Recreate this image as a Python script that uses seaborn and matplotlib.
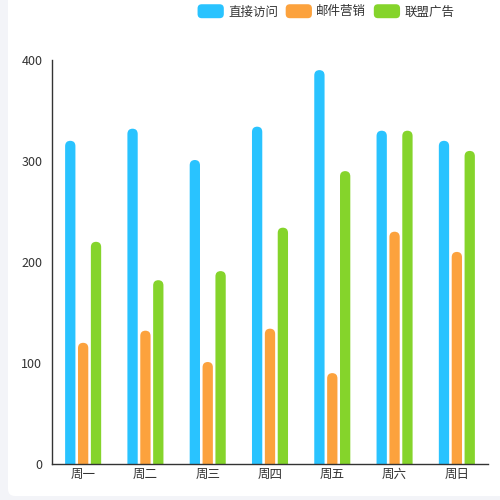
import pandas as pd
import numpy as np
import matplotlib
matplotlib.use('Agg')
import matplotlib.pyplot as plt
import seaborn as sns
from matplotlib.patches import FancyBboxPatch
from matplotlib.legend_handler import HandlerPatch

# data
days = ['周一', '周二', '周三', '周四', '周五', '周六', '周日']
direct = [320, 332, 301, 334, 390, 330, 320]
email = [120, 132, 101, 134, 90, 230, 210]
union = [220, 182, 191, 234, 290, 330, 310]
series = ['直接访问', '邮件营销', '联盟广告']
colors = ['#29c3ff', '#fca23d', '#85d42b']

df = pd.DataFrame({'day': days * 3,
                   'value': direct + email + union,
                   'series': [s for s in series for _ in days]})

sns.set_style('white')
plt.rcParams['font.family'] = ['Noto Sans CJK SC', 'DejaVu Sans']

fig = plt.figure(figsize=(5, 5), dpi=100)
fig.patch.set_facecolor('#f3f4f8')
# white card, gray strip shows on the left and bottom
card = FancyBboxPatch((8 / 500, 4 / 500), 1.05, 1.05,
                      boxstyle='round,pad=0,rounding_size=0.014',
                      transform=fig.transFigure, facecolor='white',
                      edgecolor='none', zorder=-5)
fig.patches.append(card)

ax = fig.add_axes([52 / 500, 36 / 500, 436 / 500, 404 / 500])
ax.set_zorder(2)
ax.set_facecolor('none')

sns.barplot(data=df, x='day', y='value', hue='series', palette=colors,
            saturation=1, width=0.62, gap=0.2, ax=ax, legend=False)

ax.set_ylim(0, 400)
ax.set_xlim(-0.5, 6.5)

# swap plain bars for rounded ones
px_x = 436 / 7.0
px_y = 404 / 400.0
aspect = px_x / px_y
r = 0.085
for p in list(ax.patches):
    x0, w, h = p.get_x(), p.get_width(), p.get_height()
    fc = p.get_facecolor()
    p.set_visible(False)
    rb = FancyBboxPatch((x0, -20), w, h + 20,
                        boxstyle=f'round,pad=0,rounding_size={r}',
                        mutation_aspect=aspect, facecolor=fc,
                        edgecolor='none', clip_on=True, zorder=2)
    ax.add_patch(rb)

ax.set_yticks([0, 100, 200, 300, 400])
ax.set_xlabel('')
ax.set_ylabel('')
ax.tick_params(axis='both', length=0, labelsize=9, colors='#333333')
ax.tick_params(axis='y', pad=7)
ax.tick_params(axis='x', pad=3)
for s in ['top', 'right']:
    ax.spines[s].set_visible(False)
for s in ['left', 'bottom']:
    ax.spines[s].set_color('#333333')
    ax.spines[s].set_linewidth(1)
    ax.spines[s].set_zorder(3)


class RoundHandler(HandlerPatch):
    def create_artists(self, legend, orig_handle, xdescent, ydescent,
                       width, height, fontsize, trans):
        p = FancyBboxPatch((-xdescent, -ydescent - 1), width, height + 2,
                           boxstyle='round,pad=0,rounding_size=3',
                           facecolor=orig_handle.get_facecolor(),
                           edgecolor='none', transform=trans)
        return [p]


handles = [FancyBboxPatch((0, 0), 1, 1, facecolor=c) for c in colors]
leg = fig.legend(handles, series, loc='center', bbox_to_anchor=(326 / 500, 1 - 12 / 500),
                 ncol=3, frameon=False, fontsize=9, handlelength=2.1,
                 handleheight=1.0, handletextpad=0.35, columnspacing=0.6,
                 handler_map={FancyBboxPatch: RoundHandler()})
leg.set_zorder(5)
for t in leg.get_texts():
    t.set_color('#333333')

fig.savefig('out.png', dpi=100)
